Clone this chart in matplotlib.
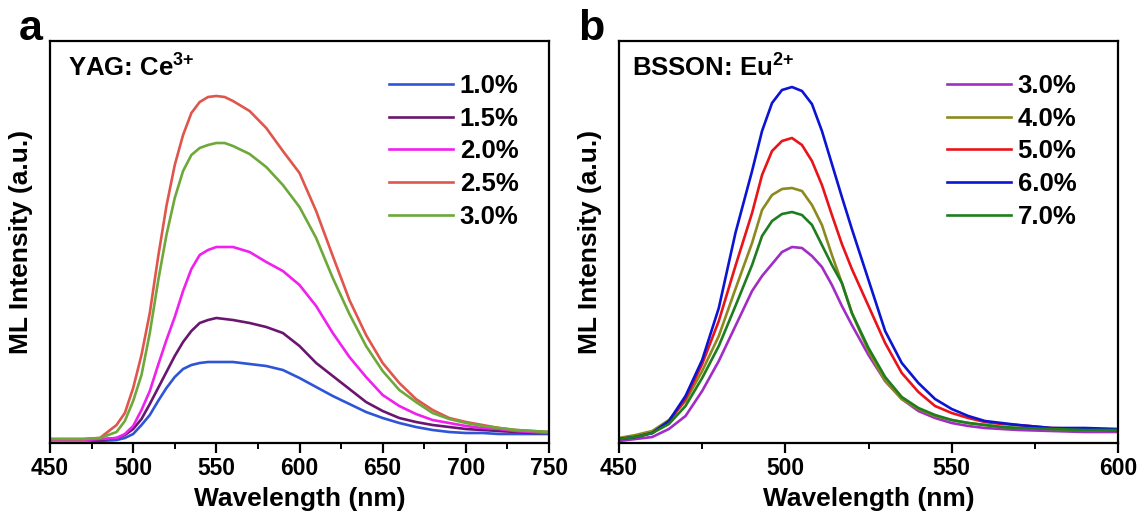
import numpy as np
import matplotlib
matplotlib.use('Agg')
import matplotlib.pyplot as plt

plt.rcParams['font.family'] = ['Liberation Sans', 'DejaVu Sans']
plt.rcParams['font.weight'] = 'bold'
plt.rcParams['mathtext.fontset'] = 'custom'
plt.rcParams['mathtext.rm'] = 'Liberation Sans:bold'
plt.rcParams['mathtext.it'] = 'Liberation Sans:bold'
plt.rcParams['mathtext.bf'] = 'Liberation Sans:bold'

# ---- panel a: YAG:Ce3+ ----
wl_a = [450, 470, 480, 490, 495, 500, 505, 510, 515, 520, 525, 530, 535, 540, 545,
        550, 555, 560, 570, 580, 590, 600, 610, 620, 630, 640, 650, 660, 670, 680,
        690, 700, 710, 720, 730, 740, 750]
a_10 = [3, 3, 2, 3, 5, 9, 18, 28, 42, 55, 66, 74, 78, 80, 81,
        81, 81, 81, 79, 77, 73, 65, 56, 47, 39, 31, 25, 20, 16, 13,
        11, 10, 10, 9, 9, 9, 9]
a_15 = [3, 3, 3, 5, 8, 14, 24, 39, 55, 71, 87, 101, 112, 120, 123,
        125, 124, 123, 120, 116, 110, 97, 80, 67, 54, 41, 32, 25, 21, 18,
        16, 14, 13, 12, 11, 10, 10]
a_20 = [3, 3, 4, 5, 9, 17, 33, 52, 78, 103, 126, 152, 174, 188, 193,
        196, 196, 196, 191, 181, 172, 158, 137, 110, 86, 66, 48, 37, 29, 23,
        20, 17, 15, 14, 12, 11, 10]
a_25 = [4, 4, 5, 18, 30, 55, 88, 130, 186, 237, 278, 308, 330, 341, 346,
        347, 346, 342, 332, 315, 292, 270, 232, 187, 143, 108, 80, 60, 44, 33,
        25, 21, 18, 15, 13, 12, 11]
a_30 = [4, 4, 5, 11, 22, 42, 68, 110, 162, 208, 245, 272, 288, 295, 298,
        300, 300, 297, 289, 276, 258, 236, 205, 165, 129, 97, 72, 53, 41, 30,
        24, 20, 17, 15, 13, 12, 11]
labels_a = ['1.0%', '1.5%', '2.0%', '2.5%', '3.0%']
colors_a = ['#2f55d6', '#6a1670', '#f020ee', '#e0554c', '#6ea83a']

# ---- panel b: BSSON:Eu2+ ----
wl_b = [450, 455, 460, 465, 470, 475, 480, 485, 490, 493, 496, 499, 502, 505, 508,
        511, 514, 517, 520, 525, 530, 535, 540, 545, 550, 555, 560, 565, 570, 580,
        590, 600]
b_30 = [2, 4, 6, 14, 27, 52, 82, 117, 152, 167, 179, 191, 196, 195, 187,
        176, 158, 137, 118, 88, 62, 44, 32, 25, 20, 17, 15, 14, 13, 12,
        11, 11]
b_40 = [5, 8, 12, 23, 42, 72, 107, 154, 200, 233, 248, 254, 255, 252, 238,
        218, 188, 160, 130, 92, 62, 44, 34, 27, 23, 20, 18, 16, 15, 14,
        13, 13]
b_50 = [4, 6, 10, 21, 44, 79, 122, 177, 230, 268, 292, 302, 305, 298, 282,
        258, 228, 199, 174, 137, 100, 70, 51, 37, 30, 25, 21, 19, 18, 15,
        14, 12]
b_60 = [4, 6, 10, 22, 47, 83, 135, 210, 272, 312, 340, 353, 356, 352, 339,
        312, 279, 246, 214, 163, 112, 80, 60, 44, 34, 27, 22, 20, 18, 15,
        15, 14]
b_70 = [4, 6, 10, 19, 37, 65, 97, 137, 178, 207, 222, 229, 231, 228, 218,
        198, 178, 160, 130, 95, 66, 46, 35, 28, 23, 20, 18, 16, 15, 14,
        13, 13]
labels_b = ['3.0%', '4.0%', '5.0%', '6.0%', '7.0%']
colors_b = ['#a02ec4', '#8c8a1e', '#e8141a', '#0a14d2', '#1e7d1e']

W, H = 1147, 519
fig = plt.figure(figsize=(W / 100, H / 100), dpi=100)
ax1 = fig.add_axes([50 / W, 1 - 443 / H, 499 / W, 402 / H])
ax2 = fig.add_axes([619 / W, 1 - 443 / H, 499 / W, 402 / H])


def style(ax, xmin, xmax, step):
    ax.set_xlim(xmin, xmax)
    ax.set_ylim(0, 402)
    ax.set_yticks([])
    ax.set_xticks(np.arange(xmin, xmax + 1, step))
    ax.set_xticks(np.arange(xmin, xmax + 1, step / 2), minor=True)
    ax.tick_params(axis='x', which='major', direction='out', length=7, width=1.6,
                   labelsize=16.5, pad=3, top=False)
    ax.tick_params(axis='x', which='minor', direction='out', length=4, width=1.4, top=False)
    for s in ax.spines.values():
        s.set_linewidth(1.6)
    for t in ax.get_xticklabels():
        t.set_fontweight('bold')
    ax.set_xlabel('Wavelength (nm)', fontsize=19, fontweight='bold', labelpad=5)
    ax.set_ylabel('ML Intensity (a.u.)', fontsize=19, fontweight='bold', labelpad=12)


for ys, lab, c in zip([a_10, a_15, a_20, a_25, a_30], labels_a, colors_a):
    ax1.plot(wl_a, ys, color=c, lw=1.9, label=lab)
for ys, lab, c in zip([b_30, b_40, b_50, b_60, b_70], labels_b, colors_b):
    ax2.plot(wl_b, ys, color=c, lw=1.9, label=lab)

style(ax1, 450, 750, 50)
style(ax2, 450, 600, 50)

leg_kw = dict(loc='upper left', frameon=False, handlelength=2.5,
              handletextpad=0.25, labelspacing=0.34, borderpad=0, borderaxespad=0,
              bbox_transform=fig.transFigure, prop={'weight': 'bold', 'size': 18.5})
ax1.legend(bbox_to_anchor=(389 / W, 1 - 74 / H), **leg_kw)
ax2.legend(bbox_to_anchor=(947 / W, 1 - 74 / H), **leg_kw)

ax1.text(68 / W, 1 - 68 / H, 'YAG: Ce$^{3{+}}$', transform=fig.transFigure,
         fontsize=18.5, fontweight='bold', va='center', ha='left')
ax2.text(632 / W, 1 - 68 / H, 'BSSON: Eu$^{2{+}}$', transform=fig.transFigure,
         fontsize=18.5, fontweight='bold', va='center', ha='left')

fig.text(19 / W, 1 - 40 / H, 'a', fontsize=31, fontweight='bold', va='baseline')
fig.text(578 / W, 1 - 40 / H, 'b', fontsize=31, fontweight='bold', va='baseline')

fig.savefig('out.png', dpi=100)
